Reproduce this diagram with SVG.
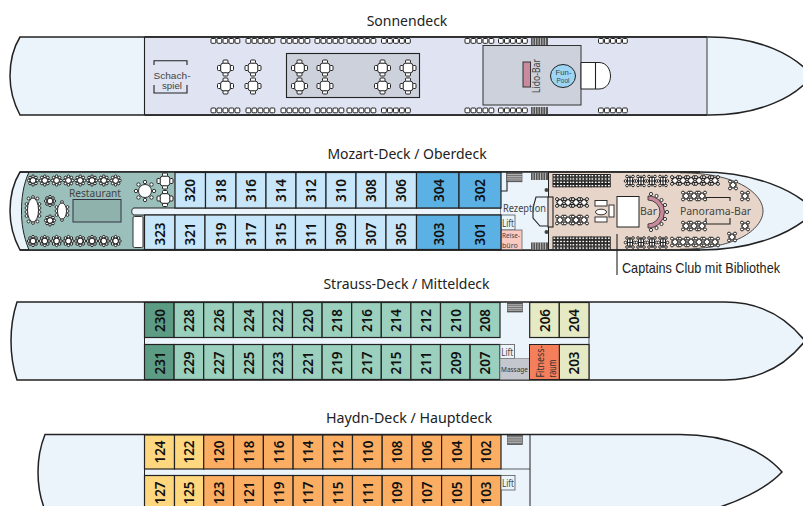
<svg xmlns="http://www.w3.org/2000/svg" width="803" height="506" viewBox="0 0 803 506">
<style>
text{font-family:"Noto Sans","Open Sans",sans-serif;}
.t{font-size:14px;fill:#222;text-anchor:middle}
.n{font-size:13.5px;font-weight:600;fill:#111;text-anchor:middle}
.l{font-size:10px;fill:#444;text-anchor:middle}
.ls{font-family:"Liberation Sans",sans-serif;fill:#444;text-anchor:middle}
.k{stroke:#222;stroke-width:1.2;}
.hull{fill:#ebf3fb;stroke:#222;stroke-width:1.5}
.ln{fill:none;stroke:#222;stroke-width:1.1}
.b{fill:#c8e6f9}.d{fill:#5bb0e4}.g{fill:#9ad0bd}.dg{fill:#5d9c84}.y{fill:#e5eac4}.o{fill:#fbad62}.ly{fill:#fed77f}
.f{fill:#fff;stroke:#222;stroke-width:1}
</style>
<defs>
<g id="beds"><rect class="f" x=".5" y=".5" width="4.8" height="4.8" rx="1"/><rect class="f" x="6.500" y=".5" width="4.8" height="4.8" rx="1"/><rect class="f" x="12.500" y=".5" width="4.8" height="4.8" rx="1"/><rect class="f" x="18.500" y=".5" width="4.8" height="4.8" rx="1"/><rect class="f" x="24.500" y=".5" width="4.8" height="4.8" rx="1"/></g>
<g id="tbl"><rect class="f" x="-8" y="-2.500" width="3.500" height="5" rx="1"/><rect class="f" x="4.500" y="-2.500" width="3.500" height="5" rx="1"/><rect class="f" x="-2.500" y="-8" width="5" height="3.500" rx="1"/><rect class="f" x="-2.500" y="4.500" width="5" height="3.500" rx="1"/><rect class="f" x="-4.800" y="-4.800" width="9.600" height="9.600" rx="2.500"/></g>
<g id="tbl2"><use href="#tbl" y="-9"/><use href="#tbl" y="9"/></g>
<g id="rt"><circle class="f" cx="-4.300" cy="0" r="1.300"/><circle class="f" cx="4.300" cy="0" r="1.300"/><circle class="f" cx="0" cy="-4.300" r="1.300"/><circle class="f" cx="0" cy="4.300" r="1.300"/><circle class="f" cx="-3" cy="-3" r="1.300"/><circle class="f" cx="3" cy="-3" r="1.300"/><circle class="f" cx="-3" cy="3" r="1.300"/><circle class="f" cx="3" cy="3" r="1.300"/><circle class="f" r="2.800"/></g>
<g id="x"><circle class="f" cx="-3" cy="-3.400" r="1.500"/><circle class="f" cx="3" cy="-3.400" r="1.500"/><circle class="f" cx="-3" cy="3.400" r="1.500"/><circle class="f" cx="3" cy="3.400" r="1.500"/><rect class="f" x="-2.400" y="-2.400" width="4.800" height="4.800" transform="rotate(45)"/></g>
<g id="xr"><use href="#x"/><use href="#x" x="8"/><use href="#x" x="16"/></g>
<g id="hg"><circle class="f" cx="-3" cy="-4.500" r="1.300"/><circle class="f" cx="3" cy="-4.500" r="1.300"/><circle class="f" cx="-3" cy="4.500" r="1.300"/><circle class="f" cx="3" cy="4.500" r="1.300"/><circle class="f" cx="-4.500" cy="0" r="1.300"/><circle class="f" cx="4.500" cy="0" r="1.300"/><rect class="f" x="-2.500" y="-3.500" width="5" height="7" rx="1"/><path d="M0,-5.500V5.500M-2.500,0H2.500" stroke="#222" stroke-width="1.200"/></g>
<g id="lat"><g id="lr"><rect class="f" x="0" y="0" width="2.800" height="2.400"/><rect class="f" x="3.300" y="0" width="2.800" height="2.400"/><rect class="f" x="6.600" y="0" width="2.800" height="2.400"/><rect class="f" x="9.900" y="0" width="2.800" height="2.400"/><rect class="f" x="13.200" y="0" width="2.800" height="2.400"/><rect class="f" x="16.500" y="0" width="2.800" height="2.400"/></g><use href="#lr" y="3.300"/><use href="#lr" y="6.600"/><use href="#lr" y="9.900"/></g>
<g id="stD"><rect width="17" height="7" fill="#555"/><path d="M2,0V7M4.500,0V7M7,0V7M9.500,0V7M12,0V7M14.500,0V7" stroke="#ddd" stroke-width=".7"/></g>
<g id="stL"><rect width="15" height="9" fill="#666" stroke="#333" stroke-width=".6"/><path d="M0,1.800H15M0,3.600H15M0,5.400H15M0,7.200H15" stroke="#ddd" stroke-width=".7"/></g>
</defs>
<rect width="803" height="506" fill="#fff"/>

<g id="deck-sonnendeck">
<text class="t" x="407" y="26">Sonnendeck</text>
<path class="hull" d="M20,37H710C760,37 795,55 812,76C795,97 760,115 710,115H20C12,100 10,88 10,76C10,64 12,50 20,37Z"/>
<rect x="144.500" y="37.800" width="562.500" height="76.400" fill="#dfe3f2"/>
<path class="ln" d="M144.500,37V115"/><path d="M707,37V115" stroke="#555" stroke-width="1.200"/>
<path d="M144.500,37H707M144.500,115H707" stroke="#222" stroke-width="1.500"/>
<rect x="286.500" y="53.500" width="133" height="44" fill="#cdd1dc" stroke="#222" stroke-width="1.100"/>
<rect x="483" y="45.500" width="98" height="59.500" fill="#cdd1dc" stroke="#333" stroke-width="1"/>
<g id="schachspiel"><path class="ln" d="M154,65V60.700H187V65M154,85V93H187V85"/>
<text class="ls" x="172" y="78.500" font-size="9" textLength="37" lengthAdjust="spacingAndGlyphs">Schach-</text><text class="ls" x="172" y="89" font-size="9" textLength="20" lengthAdjust="spacingAndGlyphs">spiel</text></g>
<use href="#beds" x="210.500" y="38"/><use href="#beds" x="245.500" y="38"/><use href="#beds" x="280.500" y="38"/><use href="#beds" x="314.500" y="38"/><use href="#beds" x="346.500" y="38"/><use href="#beds" x="381" y="38"/><use href="#beds" x="464.500" y="38"/><use href="#beds" x="498" y="38"/><use href="#beds" x="598" y="38"/>
<use href="#beds" x="210.500" y="107.500"/><use href="#beds" x="245.500" y="107.500"/><use href="#beds" x="280.500" y="107.500"/><use href="#beds" x="314.500" y="107.500"/><use href="#beds" x="346.500" y="107.500"/><use href="#beds" x="381" y="107.500"/><use href="#beds" x="464.500" y="107.500"/><use href="#beds" x="498" y="107.500"/><use href="#beds" x="598" y="107.500"/>
<use href="#stD" x="531" y="38"/><use href="#stD" x="531" y="107"/>
<use href="#tbl2" x="225.500" y="77"/><use href="#tbl2" x="253" y="77"/><use href="#tbl2" x="299.500" y="77"/><use href="#tbl2" x="325" y="77"/><use href="#tbl2" x="382.500" y="77"/><use href="#tbl2" x="408" y="77"/>
<g id="lido-bar"><rect x="523" y="62" width="7.500" height="25" fill="#c98a9d" stroke="#333"/><text class="l" transform="rotate(-90 540 76)" x="540" y="76" textLength="34" lengthAdjust="spacingAndGlyphs">Lido-Bar</text></g>
<g id="fun-pool"><path d="M581,62.500H599C607,62.500 610.500,70 610.500,76C610.500,82 607,89 599,89H581Z" fill="#fff" stroke="#222"/><path class="ln" d="M595.500,62.500V89"/>
<ellipse cx="563" cy="76" rx="12.500" ry="11.500" fill="#9dd6f4" stroke="#222"/>
<text class="ls" x="563.500" y="75" font-size="7" textLength="16" lengthAdjust="spacingAndGlyphs">Fun-</text><text class="ls" x="563" y="83.200" font-size="7" textLength="13" lengthAdjust="spacingAndGlyphs">Pool</text></g>
</g>

<g id="deck-mozart">
<text class="t" x="407" y="159">Mozart-Deck / Oberdeck</text>
<path class="hull" d="M20,172H700C755,172 795,190 815,211C795,232 755,250 700,250H20C12,235 10,223 10,211C10,199 12,185 20,172Z"/>
<path d="M29,172H175V208H144.500V250H29C23,235 21.500,223 21.500,211C21.500,199 23,185 29,172Z" fill="#9bbfba"/>
<path d="M549,172.800H680C740,172.800 763,195 763,211C763,227 740,249.200 680,249.200H549Z" fill="#e8d5c9"/>
<path d="M20,172H700M20,250H700" stroke="#222" stroke-width="1.500" fill="none"/>
<path d="M29,172C23,185 21.500,199 21.500,211C21.500,223 23,235 29,250" fill="none" stroke="#222" stroke-width="1"/>
<path d="M680,172.800C740,172.800 763,195 763,211C763,227 740,249.200 680,249.200" fill="none" stroke="#222" stroke-width=".8"/>
<path d="M134,208H501V215H134C131,215 131,208 134,208Z" fill="#ebf3fb" stroke="#222" stroke-width="1"/>
<rect x="133" y="216.500" width="10" height="31" rx="1.500" fill="#fff" stroke="#333"/>
<g id="restaurant"><rect x="73" y="199.500" width="48" height="22.500" fill="#8fb2ad" stroke="#334" stroke-width="1"/>
<text class="l" x="95" y="196.500" style="font-size:10.500px" textLength="52" lengthAdjust="spacingAndGlyphs">Restaurant</text>
<use href="#rt" x="33" y="180.500"/><use href="#rt" x="44.800" y="180.500"/><use href="#rt" x="56.600" y="180.500"/><use href="#rt" x="68.400" y="180.500"/><use href="#rt" x="80.200" y="180.500"/><use href="#rt" x="92" y="180.500"/><use href="#rt" x="103.800" y="180.500"/><use href="#rt" x="115.600" y="180.500"/>
<use href="#rt" x="33" y="241"/><use href="#rt" x="44.800" y="241"/><use href="#rt" x="56.600" y="241"/><use href="#rt" x="68.400" y="241"/><use href="#rt" x="80.200" y="241"/><use href="#rt" x="92" y="241"/><use href="#rt" x="103.800" y="241"/><use href="#rt" x="115.600" y="241"/>
<use href="#rt" x="50" y="201"/><use href="#rt" x="50" y="220.500"/>
<g fill="#fff" stroke="#222" stroke-width=".9"><circle cx="26.500" cy="204" r="1.400"/><circle cx="26.500" cy="208" r="1.400"/><circle cx="26.500" cy="212" r="1.400"/><circle cx="26.500" cy="216" r="1.400"/><circle cx="39.500" cy="204" r="1.400"/><circle cx="39.500" cy="208" r="1.400"/><circle cx="39.500" cy="212" r="1.400"/><circle cx="39.500" cy="216" r="1.400"/><circle cx="33" cy="197" r="1.400"/><circle cx="33" cy="223" r="1.400"/><circle cx="28.500" cy="198.500" r="1.400"/><circle cx="37.500" cy="198.500" r="1.400"/><circle cx="28.500" cy="221.500" r="1.400"/><circle cx="37.500" cy="221.500" r="1.400"/><ellipse cx="33" cy="210" rx="5.500" ry="12"/>
<circle cx="56.500" cy="207" r="1.400"/><circle cx="56.500" cy="211" r="1.400"/><circle cx="56.500" cy="215" r="1.400"/><circle cx="67.500" cy="207" r="1.400"/><circle cx="67.500" cy="211" r="1.400"/><circle cx="67.500" cy="215" r="1.400"/><circle cx="62" cy="202" r="1.400"/><circle cx="62" cy="220" r="1.400"/><ellipse cx="62" cy="211" rx="4.500" ry="8"/></g>
<g fill="#fff" stroke="#222" stroke-width=".9"><circle cx="136" cy="191" r="1.700"/><circle cx="154" cy="191" r="1.700"/><circle cx="145" cy="182" r="1.700"/><circle cx="145" cy="200" r="1.700"/><circle cx="138.500" cy="184.500" r="1.700"/><circle cx="151.500" cy="184.500" r="1.700"/><circle cx="138.500" cy="197.500" r="1.700"/><circle cx="151.500" cy="197.500" r="1.700"/><circle cx="145" cy="191" r="6.500"/></g>
<use href="#tbl" x="165" y="181"/><use href="#tbl" x="165" y="198.500"/></g>
<g id="rezeption"><rect x="501" y="172.800" width="47" height="76.400" fill="#ebf3fb"/>
<path class="ln" d="M507,172V191H501"/>
<use href="#stL" x="507" y="172.800"/>
<use href="#stD" x="531" y="173"/><use href="#stD" x="531" y="242.500"/>
<path class="ln" d="M548,197H536L533,208V218L540,226H548"/>
<circle cx="546.500" cy="190" r="2" fill="#444"/><circle cx="546.500" cy="232" r="2" fill="#444"/>
<rect x="548" y="197" width="5" height="30" fill="#e8d5c9" stroke="#222" stroke-width="1.100"/>
<path d="M548.500,172V197M548.500,227V250" stroke="#222" stroke-width="1"/>
<text class="l" x="524.500" y="211.500" style="font-size:11px" textLength="43" lengthAdjust="spacingAndGlyphs">Rezeption</text>
<g id="lift-m"><rect x="501" y="215" width="14" height="15" fill="#ebf3fb" stroke="#555" stroke-width=".8"/><text class="l" x="508" y="226.500" style="font-size:10.500px" textLength="12" lengthAdjust="spacingAndGlyphs">Lift</text></g>
<g id="reisebuero"><rect x="501" y="230" width="21" height="19.500" fill="#f9c9c2" stroke="#555" stroke-width=".7"/><text style="font-size:7px;fill:#444" textLength="18" lengthAdjust="spacingAndGlyphs" x="502" y="238">Reise-</text><text style="font-size:7px;fill:#444" x="502" y="247.500">büro</text></g></g>
<g id="captains-club"><use href="#lat" x="553" y="174.500"/><use href="#lat" x="572" y="174.500"/><use href="#lat" x="591" y="174.500"/><use href="#lat" x="553" y="237"/><use href="#lat" x="572" y="237"/><use href="#lat" x="591" y="237"/>
<use href="#hg" x="630" y="181"/><use href="#hg" x="641" y="181"/><use href="#hg" x="652" y="181"/><use href="#hg" x="663" y="181"/><use href="#hg" x="630" y="242.500"/><use href="#hg" x="641" y="242.500"/><use href="#hg" x="652" y="242.500"/><use href="#hg" x="663" y="242.500"/>
<use href="#xr" x="675" y="180.500"/><use href="#xr" x="699" y="180.500"/><use href="#xr" x="675" y="242"/><use href="#xr" x="699" y="242"/>
<use href="#xr" x="560" y="202.500"/><use href="#x" x="584" y="202.500"/><use href="#x" x="576" y="202.500"/><use href="#xr" x="560" y="220"/><use href="#x" x="584" y="220"/><use href="#x" x="576" y="220"/>
<g fill="#fff" stroke="#222" stroke-width=".9"><rect x="595" y="200.500" width="12" height="5.500"/><rect x="595" y="217" width="12" height="5"/><ellipse cx="601" cy="212" rx="5.500" ry="2.800"/><rect x="609" y="205" width="5" height="12"/></g>
<rect x="617" y="196.500" width="22" height="30.500" fill="#fff" stroke="#222"/>
<path d="M648,196A16.500,16 0 0 1 648,228V224A12,12 0 0 0 648,200Z" fill="#c98a9d" stroke="#222" stroke-width=".8"/>
<g fill="#fff" stroke="#222" stroke-width=".9"><circle cx="651" cy="194" r="1.600"/><circle cx="656.500" cy="196" r="1.600"/><circle cx="661.500" cy="200" r="1.600"/><circle cx="665" cy="205" r="1.600"/><circle cx="667" cy="212" r="1.600"/><circle cx="665" cy="219" r="1.600"/><circle cx="661.500" cy="224" r="1.600"/><circle cx="656.500" cy="228" r="1.600"/><circle cx="651" cy="230" r="1.600"/></g>
<text class="l" x="648.500" y="215" style="font-size:10.500px">Bar</text>
<path class="ln" d="M617,234V275"/>
<text x="622" y="273" font-size="14.500" fill="#222" style="font-family:'Liberation Sans',sans-serif" textLength="158" lengthAdjust="spacingAndGlyphs">Captains Club mit Bibliothek</text></g>
<g id="panorama-bar"><text class="l" x="715.500" y="215" style="font-size:10.500px">Panorama-Bar</text>
<path class="ln" d="M706,201V197.500H730V201M706,218V224H730V218"/>
<use href="#xr" x="686" y="196"/><use href="#xr" x="686" y="226"/><use href="#x" x="733" y="185"/><use href="#x" x="745" y="196"/><use href="#x" x="745" y="226"/><use href="#x" x="732" y="237"/></g>
<g id="mozart-cabins" class="k">
<g id="c320"><rect class="b" x="175" y="172.500" width="30.500" height="35.500"/><text class="n" stroke="none" transform="rotate(-90 195 190.500)" x="195" y="190.500">320</text></g>
<g id="c318"><rect class="b" x="205.500" y="172.500" width="30.500" height="35.500"/><text class="n" stroke="none" transform="rotate(-90 226 190.500)" x="226" y="190.500">318</text></g>
<g id="c316"><rect class="b" x="236" y="172.500" width="30" height="35.500"/><text class="n" stroke="none" transform="rotate(-90 256 190.500)" x="256" y="190.500">316</text></g>
<g id="c314"><rect class="b" x="266" y="172.500" width="30" height="35.500"/><text class="n" stroke="none" transform="rotate(-90 286 190.500)" x="286" y="190.500">314</text></g>
<g id="c312"><rect class="b" x="296" y="172.500" width="30" height="35.500"/><text class="n" stroke="none" transform="rotate(-90 316 190.500)" x="316" y="190.500">312</text></g>
<g id="c310"><rect class="b" x="326" y="172.500" width="30" height="35.500"/><text class="n" stroke="none" transform="rotate(-90 346 190.500)" x="346" y="190.500">310</text></g>
<g id="c308"><rect class="b" x="356" y="172.500" width="30" height="35.500"/><text class="n" stroke="none" transform="rotate(-90 376 190.500)" x="376" y="190.500">308</text></g>
<g id="c306"><rect class="b" x="386" y="172.500" width="30.500" height="35.500"/><text class="n" stroke="none" transform="rotate(-90 406 190.500)" x="406" y="190.500">306</text></g>
<g id="c304"><rect class="d" x="416.500" y="172.500" width="42.500" height="35.500"/><text class="n" stroke="none" transform="rotate(-90 443.500 190.500)" x="443.500" y="190.500">304</text></g>
<g id="c302"><rect class="d" x="459" y="172.500" width="42" height="35.500"/><text class="n" stroke="none" transform="rotate(-90 485 190.500)" x="485" y="190.500">302</text></g>
<g id="c323"><rect class="b" x="144.500" y="215" width="30.500" height="34.500"/><text class="n" stroke="none" transform="rotate(-90 165 234)" x="165" y="234">323</text></g>
<g id="c321"><rect class="b" x="175" y="215" width="30" height="34.500"/><text class="n" stroke="none" transform="rotate(-90 195 234)" x="195" y="234">321</text></g>
<g id="c319"><rect class="b" x="205" y="215" width="30.500" height="34.500"/><text class="n" stroke="none" transform="rotate(-90 226 234)" x="226" y="234">319</text></g>
<g id="c317"><rect class="b" x="235.500" y="215" width="30" height="34.500"/><text class="n" stroke="none" transform="rotate(-90 256 234)" x="256" y="234">317</text></g>
<g id="c315"><rect class="b" x="265.500" y="215" width="30" height="34.500"/><text class="n" stroke="none" transform="rotate(-90 286 234)" x="286" y="234">315</text></g>
<g id="c311"><rect class="b" x="295.500" y="215" width="30" height="34.500"/><text class="n" stroke="none" transform="rotate(-90 316 234)" x="316" y="234">311</text></g>
<g id="c309"><rect class="b" x="325.500" y="215" width="30" height="34.500"/><text class="n" stroke="none" transform="rotate(-90 346 234)" x="346" y="234">309</text></g>
<g id="c307"><rect class="b" x="355.500" y="215" width="30.500" height="34.500"/><text class="n" stroke="none" transform="rotate(-90 376 234)" x="376" y="234">307</text></g>
<g id="c305"><rect class="b" x="386" y="215" width="30.500" height="34.500"/><text class="n" stroke="none" transform="rotate(-90 406 234)" x="406" y="234">305</text></g>
<g id="c303"><rect class="d" x="416.500" y="215" width="42.500" height="34.500"/><text class="n" stroke="none" transform="rotate(-90 443.500 234)" x="443.500" y="234">303</text></g>
<g id="c301"><rect class="d" x="459" y="215" width="42" height="34.500"/><text class="n" stroke="none" transform="rotate(-90 485 234)" x="485" y="234">301</text></g>
</g>
</g>

<g id="deck-strauss">
<text class="t" x="406.500" y="289">Strauss-Deck / Mitteldeck</text>
<path class="hull" d="M17,302H725C765,302 790,322 805,341C790,360 765,380 725,380H17C12,365 11,353 11,341C11,329 12,317 17,302Z"/>
<path d="M589,302V380" stroke="#555" stroke-width="1"/>
<path d="M144.500,302V380" stroke="#222" stroke-width="1"/>
<use href="#stL" x="507.500" y="303"/>
<g id="strauss-cabins" class="k">
<g id="c230"><rect class="dg" x="144.500" y="302.500" width="29.600" height="35"/><text class="n" stroke="none" transform="rotate(-90 164.500 320.500)" x="164.500" y="320.500">230</text></g>
<g id="c228"><rect class="g" x="174.100" y="302.500" width="29.600" height="35"/><text class="n" stroke="none" transform="rotate(-90 194 320.500)" x="194" y="320.500">228</text></g>
<g id="c226"><rect class="g" x="203.700" y="302.500" width="29.600" height="35"/><text class="n" stroke="none" transform="rotate(-90 224 320.500)" x="224" y="320.500">226</text></g>
<g id="c224"><rect class="g" x="233.300" y="302.500" width="29.600" height="35"/><text class="n" stroke="none" transform="rotate(-90 253.500 320.500)" x="253.500" y="320.500">224</text></g>
<g id="c222"><rect class="g" x="262.900" y="302.500" width="29.600" height="35"/><text class="n" stroke="none" transform="rotate(-90 283 320.500)" x="283" y="320.500">222</text></g>
<g id="c220"><rect class="g" x="292.500" y="302.500" width="29.600" height="35"/><text class="n" stroke="none" transform="rotate(-90 312.500 320.500)" x="312.500" y="320.500">220</text></g>
<g id="c218"><rect class="g" x="322.100" y="302.500" width="29.600" height="35"/><text class="n" stroke="none" transform="rotate(-90 342 320.500)" x="342" y="320.500">218</text></g>
<g id="c216"><rect class="g" x="351.700" y="302.500" width="29.600" height="35"/><text class="n" stroke="none" transform="rotate(-90 371.500 320.500)" x="371.500" y="320.500">216</text></g>
<g id="c214"><rect class="g" x="381.300" y="302.500" width="29.600" height="35"/><text class="n" stroke="none" transform="rotate(-90 401 320.500)" x="401" y="320.500">214</text></g>
<g id="c212"><rect class="g" x="410.900" y="302.500" width="29.600" height="35"/><text class="n" stroke="none" transform="rotate(-90 431 320.500)" x="431" y="320.500">212</text></g>
<g id="c210"><rect class="g" x="440.500" y="302.500" width="29.600" height="35"/><text class="n" stroke="none" transform="rotate(-90 460.500 320.500)" x="460.500" y="320.500">210</text></g>
<g id="c208"><rect class="g" x="470.100" y="302.500" width="29.900" height="35"/><text class="n" stroke="none" transform="rotate(-90 490 320.500)" x="490" y="320.500">208</text></g>
<g id="c206"><rect class="y" x="529.700" y="302.500" width="29.600" height="35"/><text class="n" stroke="none" transform="rotate(-90 549.500 320.500)" x="549.500" y="320.500">206</text></g>
<g id="c204"><rect class="y" x="559.300" y="302.500" width="29.700" height="35"/><text class="n" stroke="none" transform="rotate(-90 579 320.500)" x="579" y="320.500">204</text></g>
<g id="c231"><rect class="dg" x="144.500" y="344.500" width="29.600" height="35"/><text class="n" stroke="none" transform="rotate(-90 164.500 363)" x="164.500" y="363">231</text></g>
<g id="c229"><rect class="g" x="174.100" y="344.500" width="29.600" height="35"/><text class="n" stroke="none" transform="rotate(-90 194 363)" x="194" y="363">229</text></g>
<g id="c227"><rect class="g" x="203.700" y="344.500" width="29.600" height="35"/><text class="n" stroke="none" transform="rotate(-90 224 363)" x="224" y="363">227</text></g>
<g id="c225"><rect class="g" x="233.300" y="344.500" width="29.600" height="35"/><text class="n" stroke="none" transform="rotate(-90 253.500 363)" x="253.500" y="363">225</text></g>
<g id="c223"><rect class="g" x="262.900" y="344.500" width="29.600" height="35"/><text class="n" stroke="none" transform="rotate(-90 283 363)" x="283" y="363">223</text></g>
<g id="c221"><rect class="g" x="292.500" y="344.500" width="29.600" height="35"/><text class="n" stroke="none" transform="rotate(-90 312.500 363)" x="312.500" y="363">221</text></g>
<g id="c219"><rect class="g" x="322.100" y="344.500" width="29.600" height="35"/><text class="n" stroke="none" transform="rotate(-90 342 363)" x="342" y="363">219</text></g>
<g id="c217"><rect class="g" x="351.700" y="344.500" width="29.600" height="35"/><text class="n" stroke="none" transform="rotate(-90 371.500 363)" x="371.500" y="363">217</text></g>
<g id="c215"><rect class="g" x="381.300" y="344.500" width="29.600" height="35"/><text class="n" stroke="none" transform="rotate(-90 401 363)" x="401" y="363">215</text></g>
<g id="c211"><rect class="g" x="410.900" y="344.500" width="29.600" height="35"/><text class="n" stroke="none" transform="rotate(-90 431 363)" x="431" y="363">211</text></g>
<g id="c209"><rect class="g" x="440.500" y="344.500" width="29.600" height="35"/><text class="n" stroke="none" transform="rotate(-90 460.500 363)" x="460.500" y="363">209</text></g>
<g id="c207"><rect class="g" x="470.100" y="344.500" width="29.900" height="35"/><text class="n" stroke="none" transform="rotate(-90 490 363)" x="490" y="363">207</text></g>
<g id="c203"><rect class="y" x="559.300" y="344.500" width="29.700" height="35"/><text class="n" stroke="none" transform="rotate(-90 579 363)" x="579" y="363">203</text></g>
</g>
<g id="lift-s"><rect x="500" y="344.500" width="14.500" height="14" fill="#ebf3fb" stroke="#555" stroke-width=".8"/><text class="l" x="507.200" y="356" style="font-size:10.500px" textLength="12" lengthAdjust="spacingAndGlyphs">Lift</text></g>
<g id="massage"><rect x="500" y="358.500" width="29.500" height="21" fill="#c4c7ce" stroke="#777" stroke-width=".6"/><text class="l" x="514.500" y="372" style="font-size:7.500px;fill:#333" textLength="27" lengthAdjust="spacingAndGlyphs">Massage</text></g>
<g id="fitnessraum"><rect x="529.500" y="344.500" width="29.800" height="35" fill="#f47f5a" stroke="#222"/><text class="l" transform="rotate(-90 544 377.500)" x="544" y="377.500" style="font-size:10.500px;fill:#333;text-anchor:start" textLength="32" lengthAdjust="spacingAndGlyphs">Fitness-</text><text class="l" transform="rotate(-90 556 377.500)" x="556" y="377.500" style="font-size:10.500px;fill:#333;text-anchor:start" textLength="18" lengthAdjust="spacingAndGlyphs">raum</text></g>
</g>

<g id="deck-haydn">
<text class="t" x="409" y="423" textLength="166" lengthAdjust="spacingAndGlyphs">Haydn-Deck / Hauptdeck</text>
<path class="hull" d="M45,434.500H680C730,434.500 765,452 782,472C765,490 735,503 710,510H45C40,498 38,485 38,472C38,459 40,447 45,434.500Z"/>
<path d="M501,469H530" stroke="#333" stroke-width=".8"/>
<path d="M530,434.500V510" stroke="#222" stroke-width="1"/>
<path d="M144.500,434.500V510" stroke="#222" stroke-width="1"/>
<use href="#stL" x="507.500" y="435.500"/>
<g id="haydn-cabins" class="k">
<g id="c124"><rect class="ly" x="144.500" y="435" width="30" height="34"/><text class="n" stroke="none" transform="rotate(-90 165 452)" x="165" y="452">124</text></g>
<g id="c122"><rect class="ly" x="174.500" y="435" width="29.200" height="34"/><text class="n" stroke="none" transform="rotate(-90 194 452)" x="194" y="452">122</text></g>
<g id="c120"><rect class="o" x="203.700" y="435" width="30" height="34"/><text class="n" stroke="none" transform="rotate(-90 224 452)" x="224" y="452">120</text></g>
<g id="c118"><rect class="o" x="233.700" y="435" width="29.700" height="34"/><text class="n" stroke="none" transform="rotate(-90 254 452)" x="254" y="452">118</text></g>
<g id="c116"><rect class="o" x="263.400" y="435" width="29.700" height="34"/><text class="n" stroke="none" transform="rotate(-90 283.500 452)" x="283.500" y="452">116</text></g>
<g id="c114"><rect class="o" x="293.100" y="435" width="29.700" height="34"/><text class="n" stroke="none" transform="rotate(-90 313 452)" x="313" y="452">114</text></g>
<g id="c112"><rect class="o" x="322.800" y="435" width="29.700" height="34"/><text class="n" stroke="none" transform="rotate(-90 343 452)" x="343" y="452">112</text></g>
<g id="c110"><rect class="o" x="352.500" y="435" width="29.700" height="34"/><text class="n" stroke="none" transform="rotate(-90 372.500 452)" x="372.500" y="452">110</text></g>
<g id="c108"><rect class="o" x="382.200" y="435" width="29.700" height="34"/><text class="n" stroke="none" transform="rotate(-90 402 452)" x="402" y="452">108</text></g>
<g id="c106"><rect class="o" x="411.900" y="435" width="29.700" height="34"/><text class="n" stroke="none" transform="rotate(-90 432 452)" x="432" y="452">106</text></g>
<g id="c104"><rect class="o" x="441.600" y="435" width="29.700" height="34"/><text class="n" stroke="none" transform="rotate(-90 461.500 452)" x="461.500" y="452">104</text></g>
<g id="c102"><rect class="o" x="471.300" y="435" width="29.700" height="34"/><text class="n" stroke="none" transform="rotate(-90 491 452)" x="491" y="452">102</text></g>
<g id="c127"><rect class="ly" x="144.500" y="475.500" width="30" height="35"/><text class="n" stroke="none" transform="rotate(-90 165 493)" x="165" y="493">127</text></g>
<g id="c125"><rect class="ly" x="174.500" y="475.500" width="29.200" height="35"/><text class="n" stroke="none" transform="rotate(-90 194 493)" x="194" y="493">125</text></g>
<g id="c123"><rect class="o" x="203.700" y="475.500" width="30" height="35"/><text class="n" stroke="none" transform="rotate(-90 224 493)" x="224" y="493">123</text></g>
<g id="c121"><rect class="o" x="233.700" y="475.500" width="29.700" height="35"/><text class="n" stroke="none" transform="rotate(-90 254 493)" x="254" y="493">121</text></g>
<g id="c119"><rect class="o" x="263.400" y="475.500" width="29.700" height="35"/><text class="n" stroke="none" transform="rotate(-90 283.500 493)" x="283.500" y="493">119</text></g>
<g id="c117"><rect class="o" x="293.100" y="475.500" width="29.700" height="35"/><text class="n" stroke="none" transform="rotate(-90 313 493)" x="313" y="493">117</text></g>
<g id="c115"><rect class="o" x="322.800" y="475.500" width="29.700" height="35"/><text class="n" stroke="none" transform="rotate(-90 343 493)" x="343" y="493">115</text></g>
<g id="c111"><rect class="o" x="352.500" y="475.500" width="29.700" height="35"/><text class="n" stroke="none" transform="rotate(-90 372.500 493)" x="372.500" y="493">111</text></g>
<g id="c109"><rect class="o" x="382.200" y="475.500" width="29.700" height="35"/><text class="n" stroke="none" transform="rotate(-90 402 493)" x="402" y="493">109</text></g>
<g id="c107"><rect class="o" x="411.900" y="475.500" width="29.700" height="35"/><text class="n" stroke="none" transform="rotate(-90 432 493)" x="432" y="493">107</text></g>
<g id="c105"><rect class="o" x="441.600" y="475.500" width="29.700" height="35"/><text class="n" stroke="none" transform="rotate(-90 461.500 493)" x="461.500" y="493">105</text></g>
<g id="c103"><rect class="o" x="471.300" y="475.500" width="29.700" height="35"/><text class="n" stroke="none" transform="rotate(-90 491 493)" x="491" y="493">103</text></g>
</g>
<g id="lift-h"><rect x="501" y="475.500" width="14" height="14.500" fill="#ebf3fb" stroke="#555" stroke-width=".8"/><text class="l" x="508" y="487" style="font-size:10.500px" textLength="12" lengthAdjust="spacingAndGlyphs">Lift</text></g>
</g>
</svg>
